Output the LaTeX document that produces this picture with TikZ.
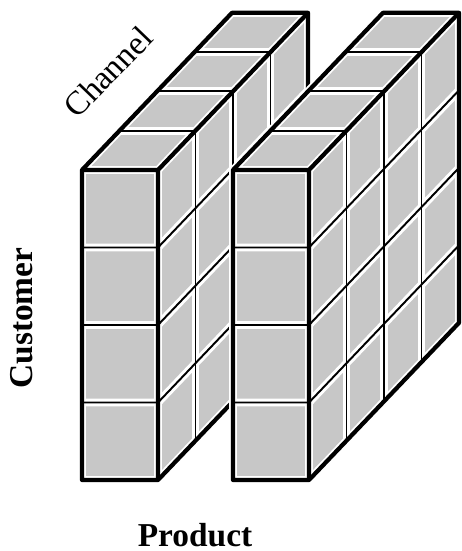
\documentclass[tikz,border=0pt]{standalone}
\usepackage{fontspec}
\setmainfont{Liberation Serif}
\usetikzlibrary{positioning}

\begin{document}
\begin{tikzpicture}[x=0.02cm, y=-0.02cm,
    face/.style={fill=black!22},
    gap/.style={white, line width=4.5pt},
    cellline/.style={black, line width=1.1pt},
    edge/.style={black, line width=2.4pt, line join=round},
    axis/.style={font=\fontsize{19}{22}\selectfont}
]
    \useasboundingbox (0,0) rectangle (462,551);
    \def\w{76}
    \def\h{77.5}
    \def\dx{37.5}
    \def\dy{39.3}
    % two slabs, left one first
    \foreach \ox in {82,233} {
        \coordinate (ftl) at (\ox,170);
        \coordinate (ftr) at ({\ox+\w},170);
        \coordinate (fbl) at (\ox,480);
        \coordinate (fbr) at ({\ox+\w},480);
        \coordinate (btl) at ({\ox+4*\dx},{170-4*\dy});
        \coordinate (btr) at ({\ox+\w+4*\dx},{170-4*\dy});
        \coordinate (bbr) at ({\ox+\w+4*\dx},{480-4*\dy});
        % faces
        \fill[face] (ftl) rectangle (fbr);
        \fill[face] (ftl) -- (ftr) -- (btr) -- (btl) -- cycle;
        \fill[face] (ftr) -- (fbr) -- (bbr) -- (btr) -- cycle;
        % white margins round the cells
        \foreach \k in {1,2,3} {
            \draw[gap] (\ox,{170+\k*\h}) -- ({\ox+\w},{170+\k*\h})
                -- ({\ox+\w+4*\dx},{170+\k*\h-4*\dy});
            \draw[gap] ({\ox+\k*\dx},{170-\k*\dy}) -- ({\ox+\w+\k*\dx},{170-\k*\dy})
                -- ({\ox+\w+\k*\dx},{480-\k*\dy});
        }
        \draw[gap] (fbl) -- (ftl) -- (btl) -- (btr) -- (bbr) -- (fbr) -- cycle;
        \draw[gap] (ftl) -- (ftr) -- (fbr) (ftr) -- (btr);
        % cell lines
        \foreach \k in {1,2,3} {
            \draw[cellline] (\ox,{170+\k*\h}) -- ({\ox+\w},{170+\k*\h})
                -- ({\ox+\w+4*\dx},{170+\k*\h-4*\dy});
            \draw[cellline] ({\ox+\k*\dx},{170-\k*\dy}) -- ({\ox+\w+\k*\dx},{170-\k*\dy})
                -- ({\ox+\w+\k*\dx},{480-\k*\dy});
        }
        % outline
        \draw[edge] (fbl) -- (ftl) -- (btl) -- (btr) -- (bbr) -- (fbr) -- cycle;
        \draw[edge] (ftl) -- (ftr) -- (fbr) (ftr) -- (btr);
    }
    \node[axis, rotate=46] (channel) at (108,72) {Channel};
    \node[axis, font=\fontsize{19}{22}\selectfont\bfseries, rotate=90] (customer) at (22,318) {Customer};
    \node[axis, font=\fontsize{19}{22}\selectfont\bfseries] (product) at (195,535) {Product};
\end{tikzpicture}
\end{document}
